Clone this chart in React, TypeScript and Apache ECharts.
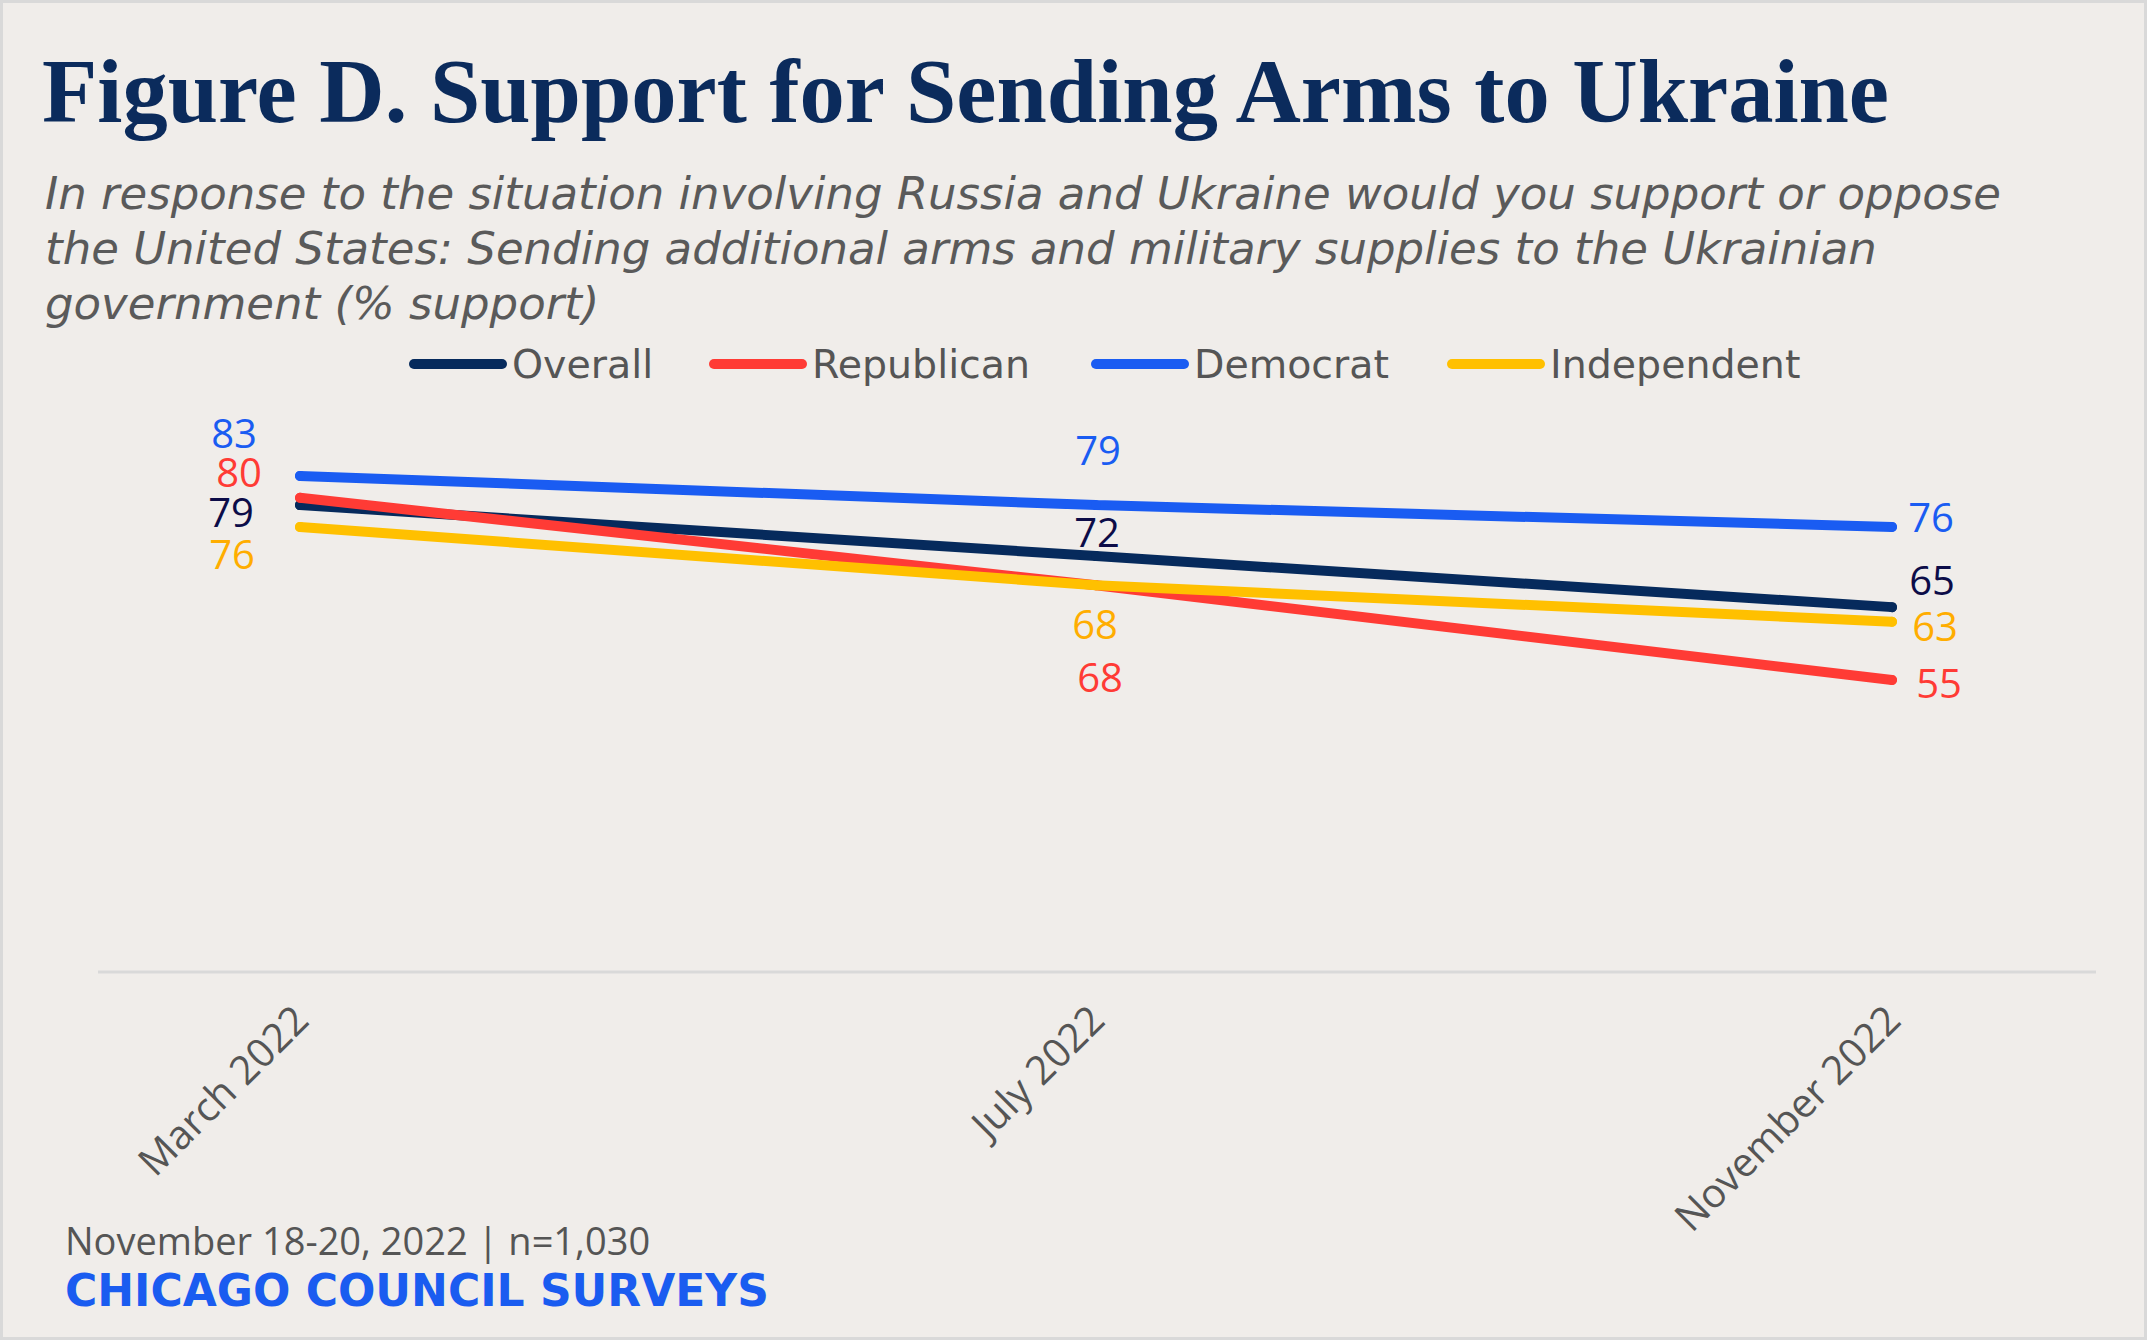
import React, { useEffect, useRef } from "react";
import * as echarts from "echarts";

const categories = ["March 2022", "July 2022", "November 2022"];
const overall = [79, 72, 65];
const republican = [80, 68, 55];
const democrat = [83, 79, 76];
const independent = [76, 68, 63];

const seriesNames = ["Overall", "Republican", "Democrat", "Independent"];

const titleText = "Figure D. Support for Sending Arms to Ukraine";
const subtitleLines = [
  "In response to the situation involving Russia and Ukraine would you support or oppose",
  "the United States: Sending additional arms and military supplies to the Ukrainian",
  "government (% support)",
];
const footerNote = "November 18-20, 2022 | n=1,030";
const footerBrand = "CHICAGO COUNCIL SURVEYS";

const SANS = '"Open Sans", "Noto Sans", sans-serif';
const WIDE = '"DejaVu Sans", sans-serif';

export default function App() {
  const ref = useRef<HTMLDivElement>(null);

  useEffect(() => {
    if (!ref.current) return;
    const chart = echarts.init(ref.current, undefined, { renderer: "svg" });

    const styles = [
      { data: overall, line: "#062a5c", label: "#0c0c48", offsets: [[-69, 6], [1, -25], [40, -28]] },
      { data: republican, line: "#ff3b35", label: "#ff3b35", offsets: [[-61, -26], [4, 91], [47, 2]] },
      { data: democrat, line: "#1a5cf2", label: "#1a5cf2", offsets: [[-66, -43], [2, -56], [39, -10]] },
      { data: independent, line: "#ffc000", label: "#ffad00", offsets: [[-68, 27], [-1, 38], [43, 4]] },
    ];

    const legendLefts = [409, 709, 1091, 1447];
    const capsule = "path://M5 0H93A5 5 0 0 1 93 10H5A5 5 0 0 1 5 0Z";

    const option: any = {
      animation: false,
      backgroundColor: "#f0edea",
      title: [
        {
          text: titleText,
          left: 42,
          top: 45,
          padding: 0,
          textStyle: {
            fontFamily: '"Liberation Serif", serif',
            fontSize: 90.5,
            fontWeight: "bold",
            color: "#0b2b5c",
            lineHeight: 92,
          },
        },
        {
          text: subtitleLines.join("\n"),
          left: 45,
          top: 166,
          padding: 0,
          textStyle: {
            fontFamily: WIDE,
            fontStyle: "italic",
            fontWeight: "normal",
            fontSize: 45,
            lineHeight: 55,
            color: "#5a5a5a",
          },
        },
      ],
      legend: seriesNames.map((name, i) => ({
        data: [name],
        left: legendLefts[i],
        top: 344,
        padding: 0,
        icon: capsule,
        itemWidth: 98,
        itemHeight: 10,
        selectedMode: false,
        textStyle: { fontFamily: WIDE, fontSize: 39.5, lineHeight: 40, color: "#555555" },
      })),
      grid: {
        left: 300,
        right: 255,
        top: 352,
        height: 619.6,
        containLabel: false,
        outerBoundsMode: "none",
      },
      xAxis: {
        type: "category",
        data: categories,
        boundaryGap: false,
        axisLine: { show: false },
        axisTick: { show: false },
        splitLine: { show: false },
        axisLabel: {
          rotate: 45,
          margin: 40,
          fontFamily: SANS,
          fontSize: 40,
          color: "#555555",
          interval: 0,
        },
      },
      yAxis: {
        type: "value",
        min: 15,
        max: 100,
        show: false,
        splitLine: { show: false },
      },
      series: styles.map((s, i) => ({
        name: seriesNames[i],
        type: "line",
        data: s.data.map((v, j) => ({
          value: v,
          label: { offset: s.offsets[j] },
        })),
        symbol: "circle",
        symbolSize: 10,
        itemStyle: { color: s.line },
        lineStyle: { color: s.line, width: 10, cap: "round" },
        z: 2 + i,
        label: {
          show: true,
          position: "inside",
          align: "center",
          verticalAlign: "middle",
          fontFamily: SANS,
          fontSize: 40,
          lineHeight: 32,
          color: s.label,
        },
        emphasis: { disabled: true },
      })),
      graphic: [
        {
          type: "rect",
          shape: { x: 1.5, y: 1.5, width: 2144, height: 1337 },
          style: { fill: "none", stroke: "#d9d9d9", lineWidth: 3 },
          silent: true,
        },
        {
          type: "line",
          shape: { x1: 98, y1: 972, x2: 2096, y2: 972 },
          style: { stroke: "#d9d9d9", lineWidth: 3 },
          silent: true,
        },
        {
          type: "text",
          x: 65,
          y: 1240,
          style: {
            text: footerNote,
            font: '38px "Open Sans"',
            fill: "#555555",
            align: "left",
            verticalAlign: "middle",
          },
        },
        {
          type: "text",
          x: 65,
          y: 1290,
          style: {
            text: footerBrand,
            font: 'bold 44px "DejaVu Sans"',
            fill: "#1a5cf0",
            align: "left",
            verticalAlign: "middle",
          },
        },
      ],
    };

    chart.setOption(option);
    return () => chart.dispose();
  }, []);

  return (
    <div style={{ position: "absolute", left: 0, top: 0, width: 2147, height: 1340 }}>
      <div ref={ref} style={{ width: 2147, height: 1340 }} />
    </div>
  );
}
